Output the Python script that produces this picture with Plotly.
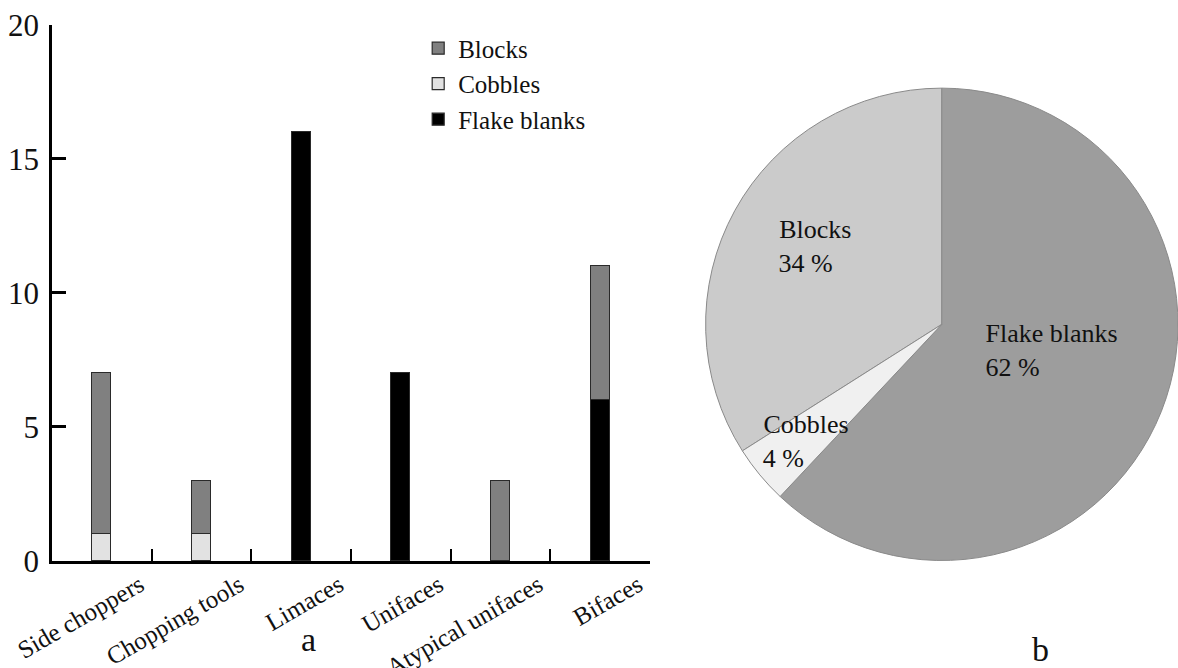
import plotly.graph_objects as go

categories = ["Side choppers", "Chopping tools", "Limaces", "Unifaces", "Atypical unifaces", "Bifaces"]
blocks = [6, 2, 0, 0, 3, 5]
cobbles = [1, 1, 0, 0, 0, 0]
flakes = [0, 0, 16, 7, 0, 6]

# pie slices listed clockwise starting with Blocks (so the Cobbles label is drawn on top)
pie_labels = ["Blocks", "Flake blanks", "Cobbles"]
pie_values = [34, 62, 4]
pie_colors = ["#cbcbcb", "#9d9d9d", "#f0f0f0"]

FONT = "Liberation Serif"
line = dict(color="#2a2a2a", width=1.2)
SP = "\u00a0"


def nz(vals):
    return [v if v else None for v in vals]


# text templates padded with non-breaking spaces so the two lines read left-aligned
pie_templates = [
    "%{label}" + SP * 5 + "<br>%{value} %" + SP * 8 + "<br>" + SP,
    "%{label}<br>%{value} %" + SP * 12 + "<br>" + SP,
    SP * 8 + "%{label}<br>" + SP * 8 + "%{value} %" + SP * 7 + "<br>" + SP,
]

# Blocks slice starts where Flake blanks + Cobbles end, measured clockwise from 12 o'clock
start_angle = 360 * (pie_values[1] + pie_values[2]) / sum(pie_values)

fig = go.Figure()
fig.add_trace(go.Bar(x=categories, y=nz(flakes), name="Flake blanks",
                     marker=dict(color="#000000", line=line), width=0.19))
fig.add_trace(go.Bar(x=categories, y=nz(cobbles), name="Cobbles",
                     marker=dict(color="#e2e2e2", line=line), width=0.19))
fig.add_trace(go.Bar(x=categories, y=nz(blocks), name="Blocks",
                     marker=dict(color="#808080", line=line), width=0.19))

fig.add_trace(go.Pie(
    labels=pie_labels, values=pie_values, sort=False, direction="clockwise",
    rotation=start_angle, showlegend=False,
    marker=dict(colors=pie_colors, line=dict(color="#8a8a8a", width=1)),
    texttemplate=pie_templates,
    textposition="inside",
    insidetextorientation="horizontal",
    textfont=dict(family=FONT, size=26, color="#111111"),
    domain=dict(x=[0.599, 1.0], y=[0.159, 0.870]),
    hoverinfo="label+value",
))

fig.update_layout(
    width=1178, height=668,
    margin=dict(l=0, r=0, t=0, b=0, autoexpand=False),
    paper_bgcolor="white", plot_bgcolor="white",
    barmode="stack", bargap=0,
    font=dict(family=FONT, color="#111111"),
    uniformtext=dict(minsize=26, mode="show"),
    legend=dict(x=0.355, y=0.962, xanchor="left", yanchor="top",
                traceorder="reversed", font=dict(family=FONT, size=25, color="#111111"),
                bgcolor="rgba(0,0,0,0)", itemwidth=30, tracegroupgap=0),
    xaxis=dict(domain=[0.0441, 0.5518], type="category", range=[-0.5, 5.5],
               automargin=False,
               tickson="boundaries", ticks="inside", ticklen=12, tickwidth=2,
               tickcolor="black", showline=True, linewidth=2.5, linecolor="black",
               showgrid=False, tickangle=-30, ticklabelshift=38, ticklabelstandoff=-3,
               tickfont=dict(family=FONT, size=25, color="#111111")),
    yaxis=dict(domain=[0.1602, 0.9626], range=[0, 20], dtick=5, tick0=0,
               automargin=False,
               ticks="inside", ticklen=14, tickwidth=2.5, tickcolor="black",
               showline=True, linewidth=2.5, linecolor="black", showgrid=False,
               zeroline=False, ticklabelstandoff=4,
               tickfont=dict(family=FONT, size=31, color="#111111")),
    annotations=[
        dict(text="a", x=0.262, y=0.042, xref="paper", yref="paper",
             xanchor="center", yanchor="middle",
             showarrow=False, font=dict(family=FONT, size=34, color="#111111")),
        dict(text="b", x=0.883, y=0.027, xref="paper", yref="paper",
             xanchor="center", yanchor="middle",
             showarrow=False, font=dict(family=FONT, size=34, color="#111111")),
    ],
)

fig.write_html("out.html", config={"displayModeBar": False},
               post_script="document.body.style.margin='0';document.body.style.overflow='hidden';")
